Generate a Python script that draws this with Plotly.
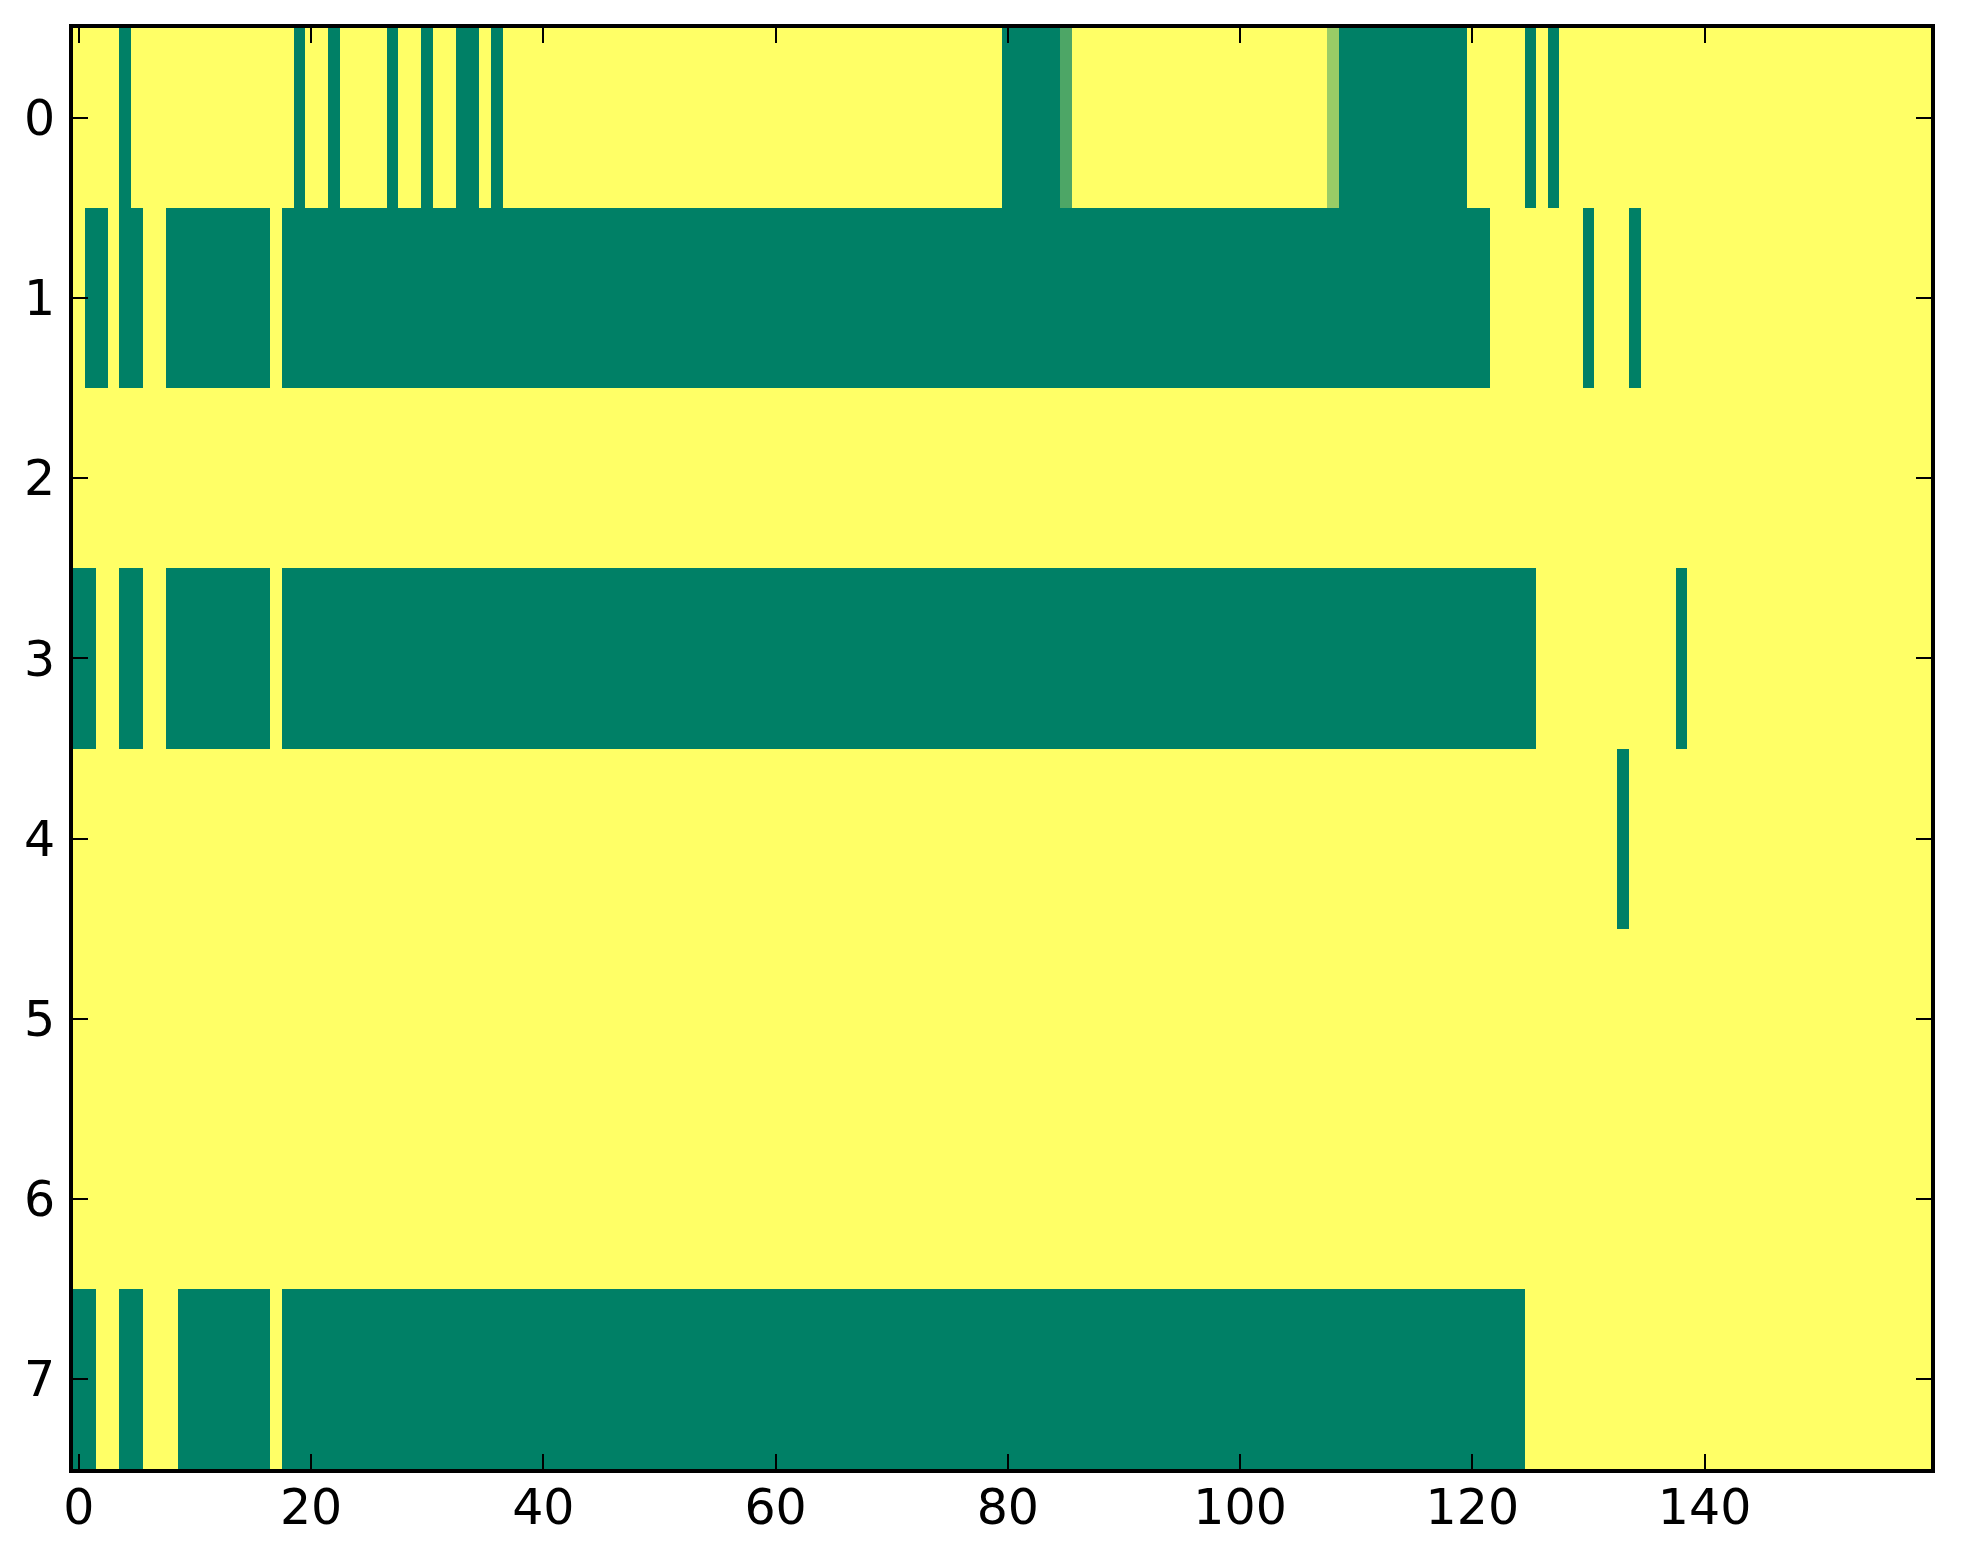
import plotly.graph_objects as go

# 8 rows x 160 columns, values 0 (green) .. 1 (yellow)
n_rows = 8
n_cols = 160

# non-yellow runs per row: (first col, last col, value)
row0 = [(4, 4, 0), (19, 19, 0), (22, 22, 0), (27, 27, 0), (30, 30, 0),
        (33, 34, 0), (36, 36, 0), (80, 84, 0), (85, 85, 0.3),
        (108, 108, 0.6), (109, 119, 0), (125, 125, 0), (127, 127, 0)]
row1 = [(1, 2, 0), (4, 5, 0), (8, 16, 0), (18, 121, 0), (130, 130, 0), (134, 134, 0)]
row2 = []
row3 = [(0, 1, 0), (4, 5, 0), (8, 16, 0), (18, 125, 0), (138, 138, 0)]
row4 = [(133, 133, 0)]
row5 = []
row6 = []
row7 = [(0, 1, 0), (4, 5, 0), (9, 16, 0), (18, 124, 0)]

rows = [row0, row1, row2, row3, row4, row5, row6, row7]

z = []
for runs in rows:
    line = [1.0] * n_cols
    for a, b, v in runs:
        for c in range(a, b + 1):
            line[c] = v
    z.append(line)

# matplotlib "summer"
summer = [[0, "rgb(0,128,102)"], [1, "rgb(255,255,102)"]]

fig = go.Figure(go.Heatmap(
    z=z, x=list(range(n_cols)), y=list(range(n_rows)),
    colorscale=summer, zmin=0, zmax=1, showscale=False,
))

axis_style = dict(
    showgrid=False, zeroline=False,
    showline=True, linecolor="black", linewidth=4, mirror="allticks",
    ticks="inside", ticklen=15, tickwidth=2, tickcolor="black",
    tickfont=dict(family="DejaVu Sans", size=49, color="black"),
)

fig.update_xaxes(range=[-0.5, n_cols - 0.5], tickvals=list(range(0, 141, 20)),
                 ticklabelstandoff=-8, **axis_style)
fig.update_yaxes(range=[n_rows - 0.5, -0.5], tickvals=list(range(n_rows)),
                 ticklabelstandoff=4, **axis_style)

# page body adds 8px, so shift the margins back
fig.update_layout(
    width=1963, height=1564,
    margin=dict(l=65, r=40, t=20, b=103),
    paper_bgcolor="white", plot_bgcolor="white",
)

fig.write_html("out.html")
